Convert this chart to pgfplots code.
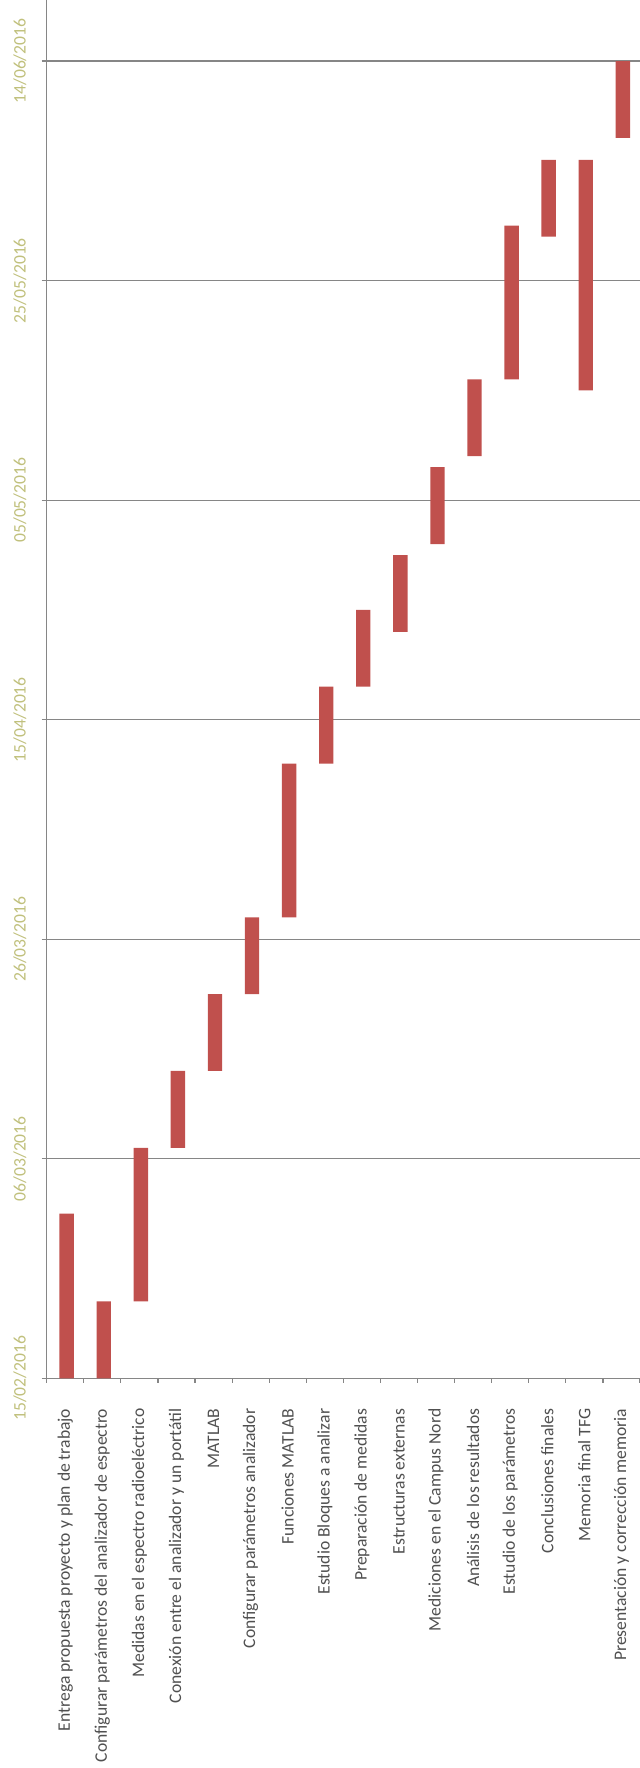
\documentclass[border=0pt]{standalone}
\usepackage{fontspec}
\setmainfont{Carlito}
\usepackage{pgfplots}
\usepackage{pgfplotstable}
\pgfplotsset{compat=1.18}

\definecolor{barred}{RGB}{192,80,77}
\definecolor{gridgray}{RGB}{134,134,134}
\definecolor{datecol}{RGB}{192,192,124}
\definecolor{labelgray}{RGB}{80,80,80}

% Task schedule: start and end in days counted from 15/02/2016
\pgfplotstableread{
idx start end
1   0    15
2   0    7
3   7    21
4   21   28
5   28   35
6   35   42
7   42   56
8   56   63
9   63   70
10  68   75
11  76   83
12  84   91
13  91   105
14  104  111
15  90   111
16  113  120
}\tasks

\begin{document}
\begin{tikzpicture}
\useasboundingbox (-23.35pt,-194.85pt) rectangle (296.65pt,689.15pt);
\begin{axis}[
  scale only axis,
  width=296.65pt, height=689.15pt,
  xmin=0.5, xmax=16.5, ymin=0, ymax=125.56,
  axis x line=bottom, axis y line=left,
  axis line style={gridgray, line width=0.6pt, -},
  ybar stacked, bar width=7.2pt, bar shift=0.7pt,
  tick align=outside,
  xtick={1,...,16},
  xticklabels={
    Entrega propuesta proyecto y plan de trabajo,
    Configurar parámetros del analizador de espectro,
    Medidas en el espectro radioeléctrico,
    Conexión entre el analizador y un portátil,
    MATLAB,
    Configurar parámetros analizador,
    Funciones MATLAB,
    Estudio Bloques a analizar,
    Preparación de medidas,
    Estructuras externas,
    Mediciones en el Campus Nord,
    Análisis de los resultados,
    Estudio de los parámetros,
    Conclusiones finales,
    Memoria final TFG,
    Presentación y corrección memoria},
  major x tick style={draw=none},
  minor xtick={0.5,1.5,...,16.5},
  minor x tick style={gridgray, line width=0.6pt},
  minor tick length=2.2pt,
  ytick={0,20,40,60,80,100,120},
  yticklabels={15/02/2016,06/03/2016,26/03/2016,15/04/2016,05/05/2016,25/05/2016,14/06/2016},
  major y tick style={gridgray, line width=0.6pt},
  major tick length=2.5pt,
  ymajorgrids,
  major y grid style={gridgray, line width=0.6pt},
  xticklabel style={rotate=90, anchor=east, inner sep=0pt,
    font=\fontsize{8.8}{10}\selectfont, text=labelgray},
  xticklabel shift=12.5pt,
  yticklabel style={rotate=90, anchor=south, inner sep=0pt,
    font=\fontsize{8.8}{10}\selectfont, text=datecol},
  yticklabel shift=7.5pt,
]
  % invisible offset up to each task's start
  \addplot[draw=none, fill=none] table[x=idx, y=start] {\tasks};
  % task duration
  \addplot[fill=barred, draw=none] table[x=idx, y expr=\thisrow{end}-\thisrow{start}] {\tasks};
\end{axis}
\end{tikzpicture}
\end{document}
